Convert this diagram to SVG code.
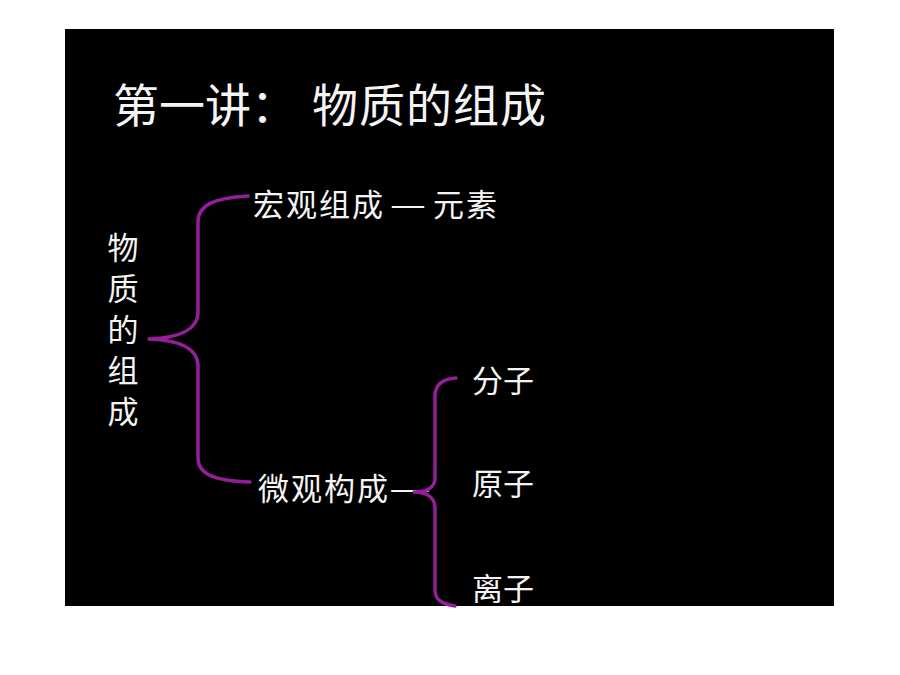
<svg xmlns="http://www.w3.org/2000/svg" width="900" height="675" viewBox="0 0 900 675">
<style>
.t{fill:#f4f4f4;font-family:"Noto Sans CJK SC","Noto Sans",sans-serif;font-weight:400}
.b{fill:none;stroke:#931e98;stroke-width:3.5;stroke-linecap:round;stroke-linejoin:round}
</style>
<rect x="0" y="0" width="900" height="675" fill="#ffffff"/>
<rect x="65" y="29" width="769" height="577" fill="#000000"/>
<g id="title"><text class="t" font-size="46" y="122"><tspan x="113">第一讲：</tspan><tspan x="312" letter-spacing="1">物质的组成</tspan></text></g>
<g id="root"><text class="t" font-size="31" text-anchor="middle"><tspan x="123" y="259">物</tspan><tspan x="123" y="300">质</tspan><tspan x="123" y="341">的</tspan><tspan x="123" y="382">组</tspan><tspan x="123" y="423">成</tspan></text></g>
<g id="macro"><text class="t" font-size="31" x="253" y="216" letter-spacing="2">宏观组成</text><text class="t" font-size="31" transform="translate(390,216) scale(1.3,1)">—</text><text class="t" font-size="31" x="433" y="216" letter-spacing="2">元素</text></g>
<g id="micro"><text class="t" font-size="31" x="258" y="500" letter-spacing="2">微观构成</text><text class="t" font-size="31" transform="translate(389,500) scale(1.5,1)">—</text></g>
<g id="molecule"><text class="t" font-size="31" x="472" y="392">分子</text></g>
<g id="atom"><text class="t" font-size="31" x="472" y="495">原子</text></g>
<g id="ion"><text class="t" font-size="31" x="472" y="600">离子</text></g>
<g id="connectors">
<path class="b" d="M 248 196 C 214 198 198 205 198 222 L 198 312 C 198 330 178 338 149 339 C 178 340 198 348 198 366 L 198 458 C 198 474 214 481 250 482"/>
<path class="b" d="M 456 378 C 442 379 435 385 435 396 L 435 478 C 435 488 426 492 414 492 C 426 492 435 497 435 508 L 435 590 C 435 600 442 604 455 606"/>
</g>
</svg>
